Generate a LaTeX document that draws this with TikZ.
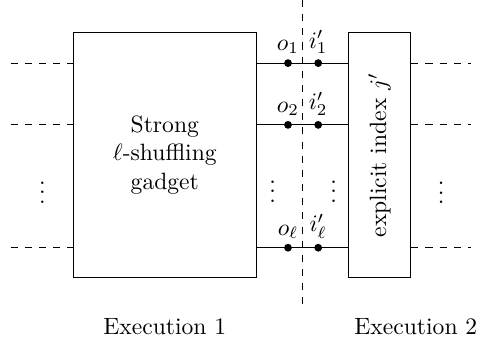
\documentclass[tikz,border=0pt]{standalone}
\usetikzlibrary{positioning}

\begin{document}
\begin{tikzpicture}[node distance=0.48cm,
  box/.style={draw, minimum height=3.64cm},
  cut/.style={dashed},
  pin dot/.style={circle, fill, inner sep=0pt, minimum size=3.3pt}]
\useasboundingbox (0,0) rectangle (7.12,-5.05);
\node[box, minimum width=2.73cm, align=center] (gadget) at (2.455,-2.31) {Strong\\$\ell$-shuffling\\gadget};
% rotated box: north is its left side, south its right side
\node[draw, minimum width=3.64cm, minimum height=0.93cm, rotate=90] (expl) at (5.655,-2.31) {explicit index $j'$};
\coordinate (cutTop) at (4.50,0);
\coordinate (cutBot) at (4.50,-4.57);
\draw[cut] (cutTop) -- (cutBot);
\foreach \n/\y/\k in {1/-0.94/1, 2/-1.86/2, 3/-3.69/\ell} {
  \coordinate (in\n) at (0.16,\y);
  \coordinate (out\n) at (7.02,\y);
  \draw[cut] (in\n) -- (gadget.west |- in\n);
  \draw (gadget.east |- in\n) -- (expl.north |- in\n);
  \draw[cut] (expl.south |- in\n) -- (out\n);
  \node[pin dot, label={[label distance=-1.5pt]above:$o_{\k}$}] (o\n) at (4.29,\y) {};
  \node[pin dot, label={[label distance=-1.5pt]above:$i'_{\k}$}] (i\n) at (4.74,\y) {};
}
\node (dotsL) at (0.63,-2.76) {$\vdots$};
\node (dotsO) at (4.06,-2.75) {$\vdots$};
\node (dotsI) at (4.97,-2.75) {$\vdots$};
\node (dotsR) at (6.57,-2.77) {$\vdots$};
\node[below=of gadget] (exec1) {Execution 1};
\node[right=1.66cm of exec1] (exec2) {Execution 2};
\end{tikzpicture}
\end{document}
